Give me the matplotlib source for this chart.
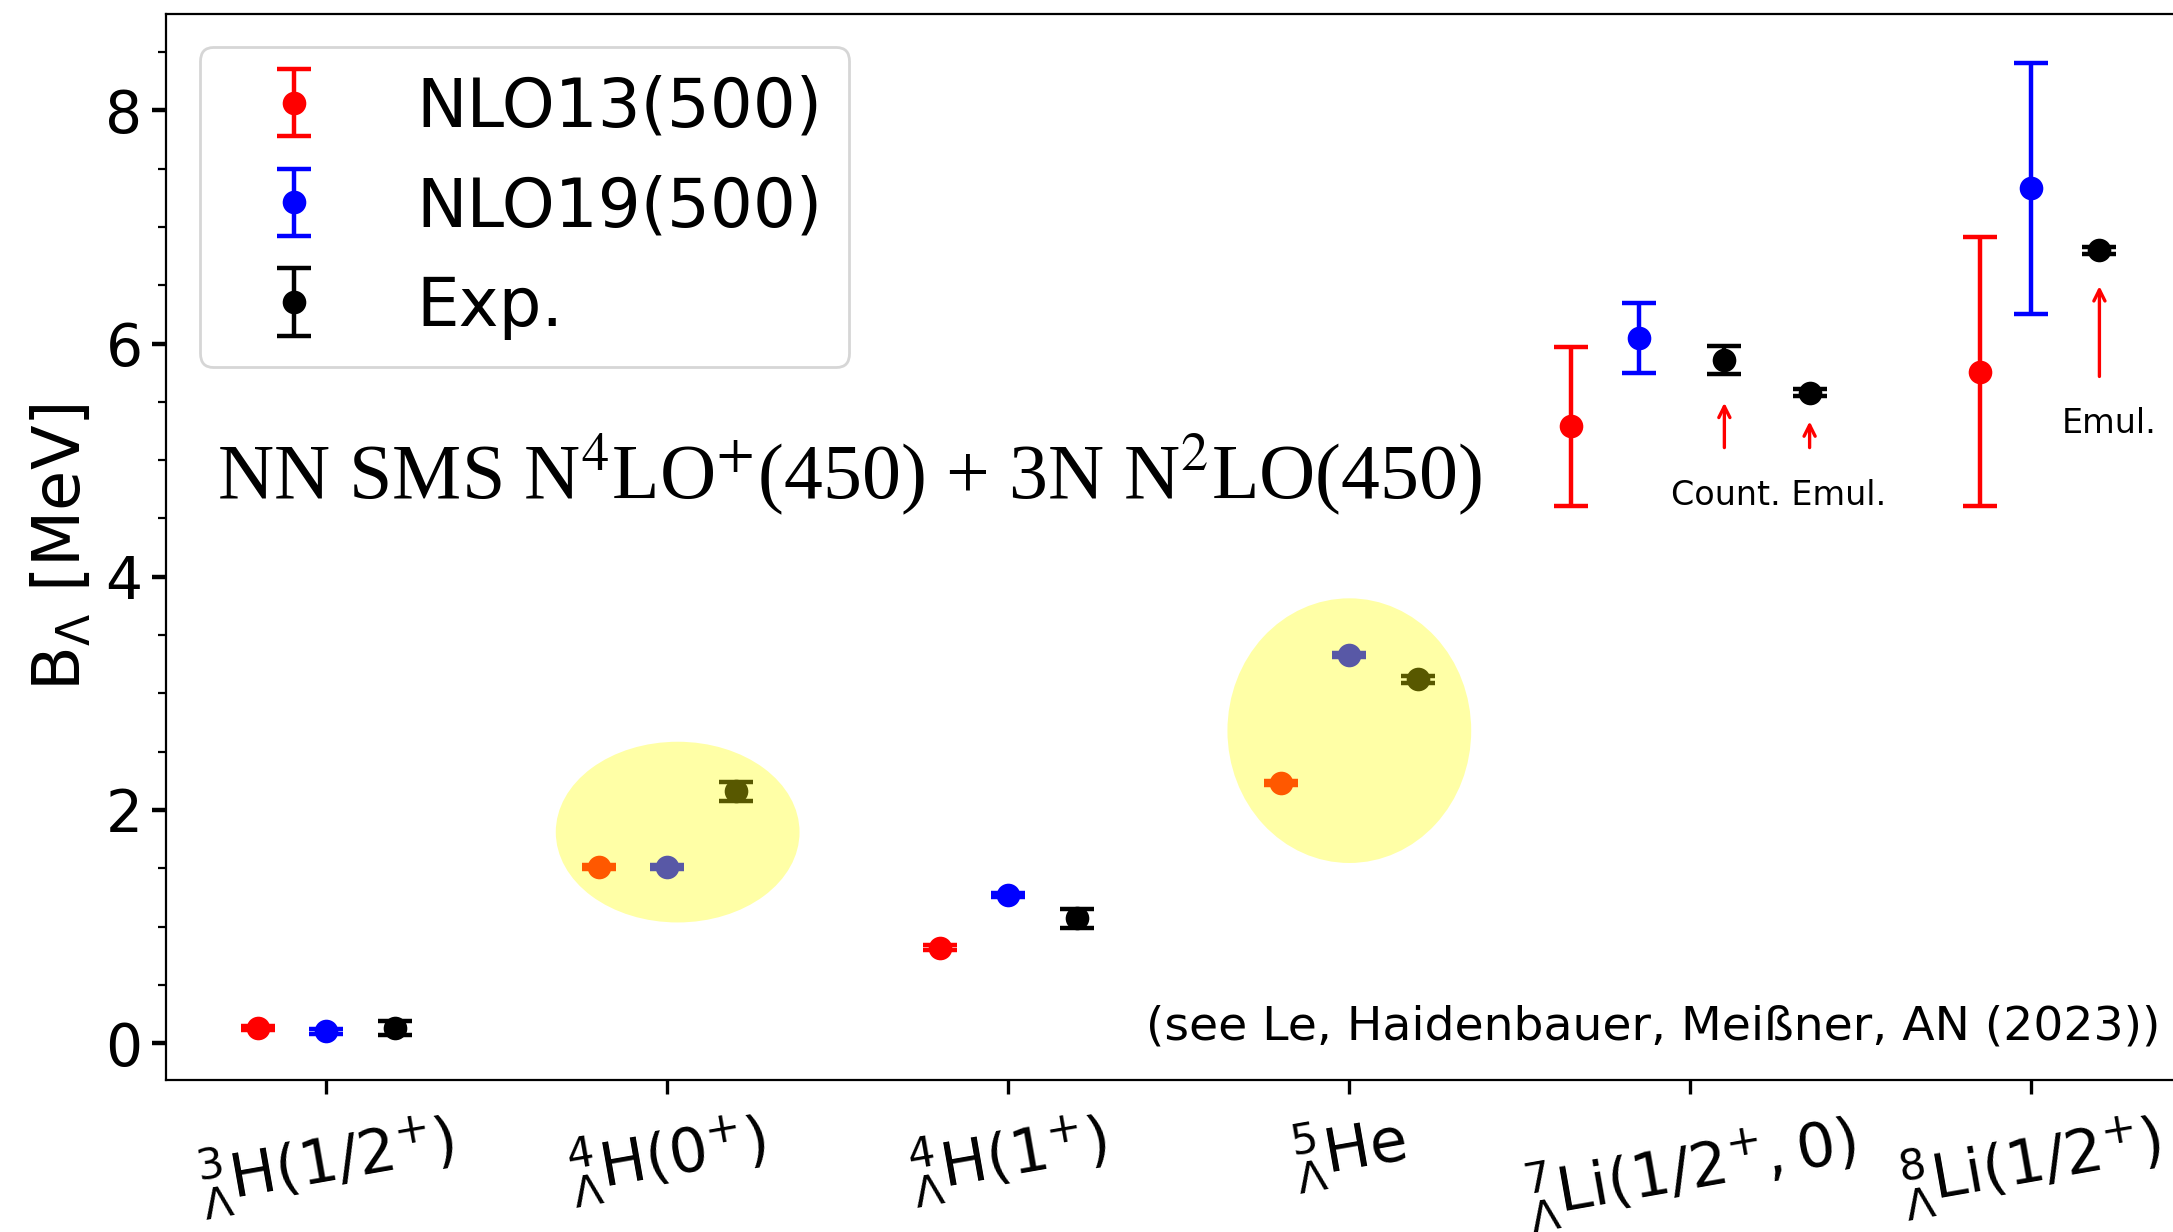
import matplotlib
matplotlib.use('Agg')
from matplotlib import pyplot as plt
from matplotlib.patches import Ellipse
from matplotlib.ticker import MultipleLocator

plt.rcParams['mathtext.fontset'] = 'dejavusans'

# tick labels (hypernuclei)
labels = [r'${}^{3}_{\Lambda}\mathrm{H}(1/2^{+})$',
          r'${}^{4}_{\Lambda}\mathrm{H}(0^{+})$',
          r'${}^{4}_{\Lambda}\mathrm{H}(1^{+})$',
          r'${}^{5}_{\Lambda}\mathrm{He}$',
          r'${}^{7}_{\Lambda}\mathrm{Li}(1/2^{+},0)$',
          r'${}^{8}_{\Lambda}\mathrm{Li}(1/2^{+})$']

# NLO13(500)
nlo13_x = [-0.2, 0.8, 1.8, 2.8, 3.65, 4.85]
nlo13_y = [0.13, 1.51, 0.82, 2.23, 5.29, 5.76]
nlo13_err = [0.02, 0.02, 0.02, 0.02, 0.68, 1.15]

# NLO19(500)
nlo19_x = [0.0, 1.0, 2.0, 3.0, 3.85, 5.0]
nlo19_y = [0.10, 1.51, 1.27, 3.33, 6.05, 7.33]
nlo19_err = [0.02, 0.02, 0.02, 0.02, 0.30, 1.08]

# experiment
exp_x = [0.2, 1.2, 2.2, 3.2, 4.1, 4.35, 5.2]
exp_y = [0.13, 2.16, 1.07, 3.12, 5.86, 5.58, 6.80]
exp_err = [0.06, 0.08, 0.08, 0.03, 0.12, 0.03, 0.03]

fig = plt.figure(figsize=(10.865, 6.16), dpi=200)
ax = fig.add_axes([0.0765, 0.123, 0.932, 0.866])

kw = dict(fmt='o', markersize=7.5, capsize=6, elinewidth=1.6, capthick=1.6)
ax.errorbar(nlo13_x, nlo13_y, yerr=nlo13_err, color='red', label='NLO13(500)', **kw)
ax.errorbar(nlo19_x, nlo19_y, yerr=nlo19_err, color='blue', label='NLO19(500)', **kw)
ax.errorbar(exp_x, exp_y, yerr=exp_err, color='black', label='Exp.', **kw)

# highlighted groups
ax.add_patch(Ellipse((1.03, 1.81), 0.715, 1.55, color='yellow', alpha=0.35, lw=0, zorder=5))
ax.add_patch(Ellipse((3.0, 2.68), 0.715, 2.27, color='yellow', alpha=0.35, lw=0, zorder=5))

# arrows for Li experiments
arr = dict(arrowstyle='->', color='red', lw=1.2)
ax.annotate('', xy=(4.1, 5.54), xytext=(4.1, 5.06), arrowprops=arr)
ax.annotate('', xy=(4.35, 5.38), xytext=(4.35, 5.06), arrowprops=arr)
ax.annotate('', xy=(5.2, 6.54), xytext=(5.2, 5.67), arrowprops=arr)
ax.text(4.26, 4.70, 'Count. Emul.', fontsize=12, ha='center', va='center')
ax.text(5.23, 5.31, 'Emul.', fontsize=12, ha='center', va='center')

ax.text(-0.32, 4.88, r'NN SMS N$^4$LO$^{+}$(450) + 3N N$^2$LO(450)',
        fontsize=28, family='Liberation Serif', math_fontfamily='stix',
        ha='left', va='center')
ax.text(5.38, 0.14, '(see Le, Haidenbauer, Meißner, AN (2023))',
        fontsize=17, ha='right', va='center')

ax.set_xlim(-0.47, 5.47)
ax.set_ylim(-0.32, 8.83)
ax.set_xticks(range(6))
ax.set_xticklabels(labels, rotation=10, ha='center', fontsize=22)
ax.yaxis.set_major_locator(MultipleLocator(2))
ax.yaxis.set_minor_locator(MultipleLocator(0.5))
ax.tick_params(axis='y', which='major', labelsize=21, length=5, width=1.6)
ax.tick_params(axis='y', which='minor', length=3, width=0.8)
ax.tick_params(axis='x', length=5, width=1.2)
ax.set_ylabel(r'B$_\Lambda$ [MeV]', fontsize=23.5, labelpad=4)

ax.legend(loc='upper left', fontsize=24.3)

fig.savefig('out.png', dpi=200)
